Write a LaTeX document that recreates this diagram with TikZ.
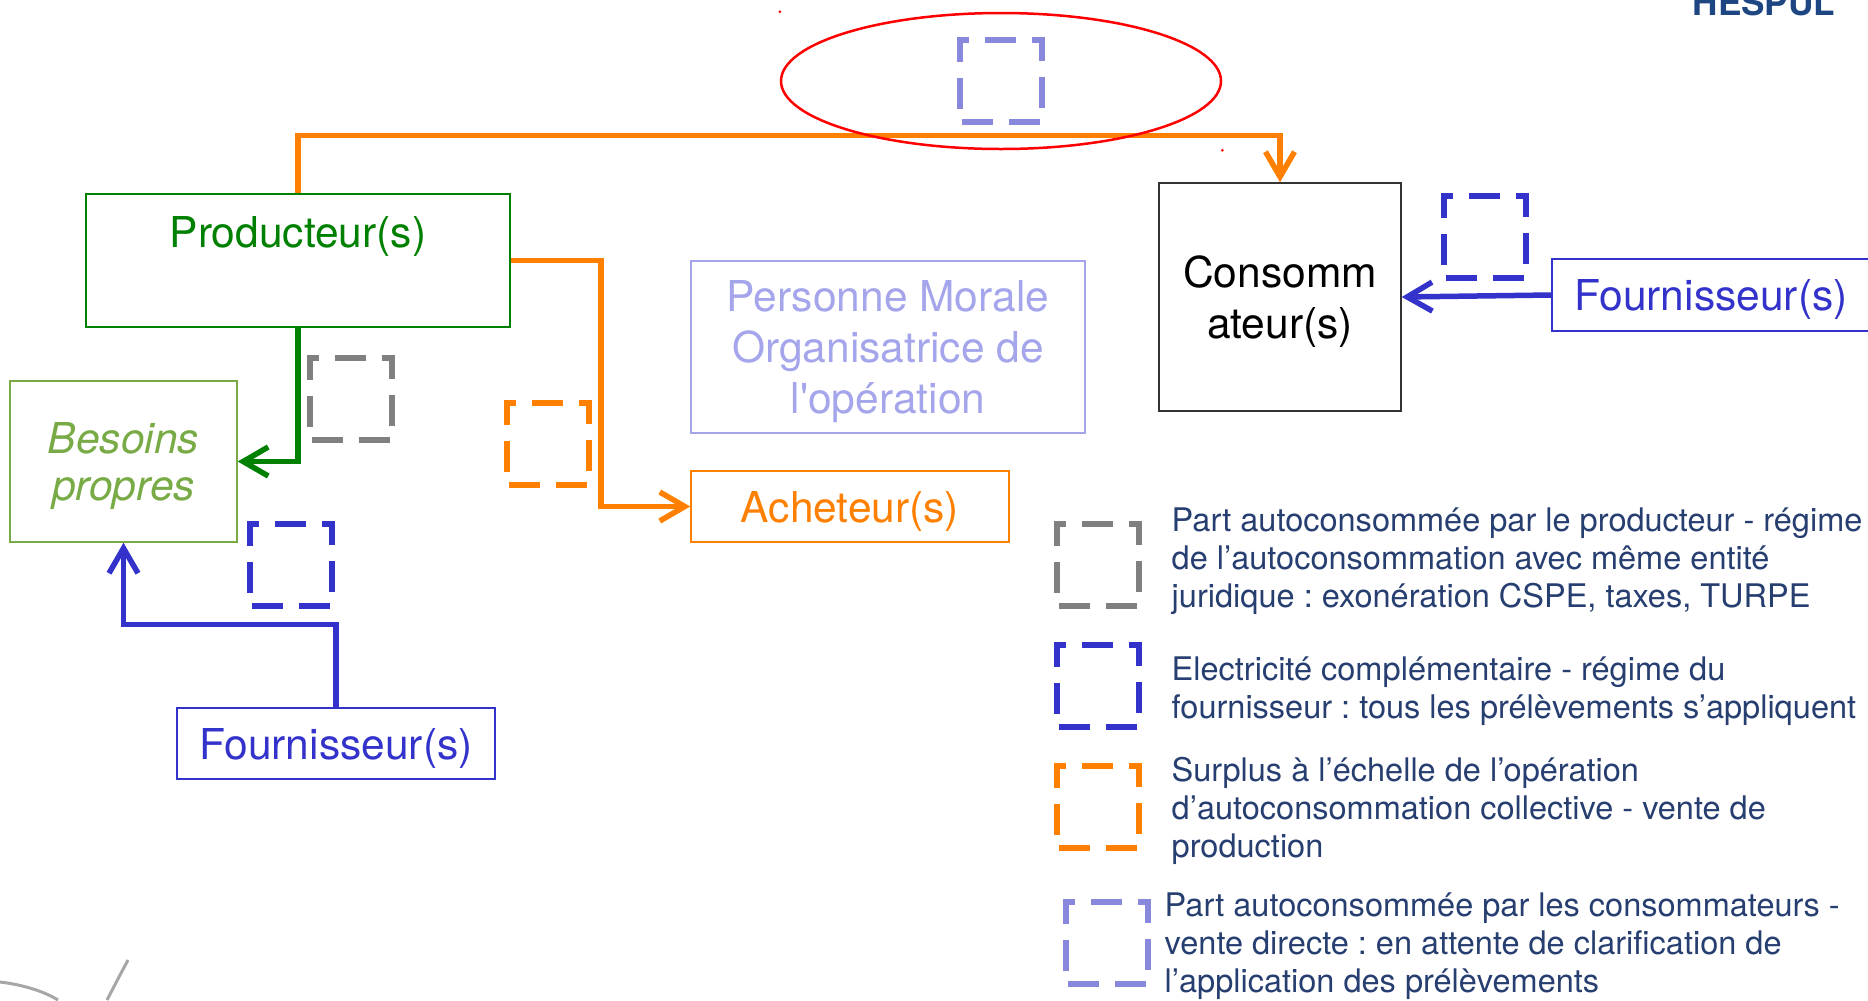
\documentclass[tikz,border=0pt]{standalone}
\usepackage{fontspec}
\setmainfont{TeX Gyre Heros}
\usetikzlibrary{arrows.meta,shapes.geometric}
\frenchspacing

\definecolor{vertprod}{RGB}{0,128,0}
\definecolor{vertbesoin}{RGB}{120,170,70}
\definecolor{orangeach}{RGB}{255,128,0}
\definecolor{bleufourn}{RGB}{51,51,204}
\definecolor{violetpmo}{RGB}{165,165,235}
\definecolor{violetcarre}{RGB}{136,136,221}
\definecolor{grisauto}{RGB}{128,128,128}
\definecolor{textelegende}{RGB}{38,62,112}
\definecolor{bleuhespul}{RGB}{30,70,130}

\begin{document}
\begin{tikzpicture}[x=0.1mm,y=-0.1mm,>={Straight Barb[length=2.5mm,width=2.9mm]},
                    flux/.style={->,line width=0.55mm},
                    boite/.style={draw,line width=0.15mm,inner sep=1mm,align=center,text depth=0pt,
                                  font=\fontsize{12.1}{14.4}\selectfont},
                    carre/.style={draw,line width=0.6mm,minimum size=8.2mm,inner sep=0pt,
                                  dash pattern=on 3.1mm off 1.6mm,dash phase=4.5mm},
                    legende/.style={anchor=west,inner sep=0pt,align=left,text=textelegende,
                                    font=\fontsize{9.25}{10.9}\selectfont}]
  \useasboundingbox (0,0) rectangle (1868,1000);

  \node[boite,draw=vertprod,text=vertprod,minimum width=42.4mm,minimum height=13.3mm,
        text height=4.3mm,text depth=7mm]                        (prod)     at (298,260.5) {Producteur(s)};
  \node[boite,draw=vertbesoin,text=vertbesoin,minimum width=22.7mm,minimum height=16.1mm,
        font=\fontsize{12.1}{13.6}\selectfont\itshape]           (besoins)  at (123.5,461.5) {Besoins\\propres};
  \node[boite,draw=violetpmo,text=violetpmo,minimum width=39.4mm,minimum height=17.2mm]
                                                                 (pmo)      at (888,347) {Personne Morale\\Organisatrice de\\l\textquotesingle opération};
  \node[boite,draw=orangeach,text=orangeach,minimum width=31.8mm,minimum height=7.1mm]
                                                                 (acheteur) at (850,506.5) {Acheteur(s)};
  \node[boite,draw=black!80,minimum width=24.2mm,minimum height=22.8mm]
                                                                 (conso)    at (1280,297) {Consomm\\ateur(s)};
  \node[boite,draw=bleufourn,text=bleufourn,minimum width=31.8mm,minimum height=7.1mm]
                                                                 (fournG)   at (336,743.5) {Fournisseur(s)};
  \node[boite,draw=bleufourn,text=bleufourn,minimum width=31.8mm,minimum height=7.2mm]
                                                                 (fournD)   at (1711,295) {Fournisseur(s)};

  \draw[flux,vertprod]  (prod.south) |- (besoins.east);
  \draw[flux,orangeach] (prod.north) -- ++(0,-58) -| (conso.north);
  \draw[flux,orangeach] (prod.east) -- ++(90,0) |- (acheteur.west);
  \draw[flux,bleufourn] (fournG.north) -- ++(0,-83) -| (besoins.south);
  \draw[flux,bleufourn] (fournD.west) -- (conso.east);

  \node[carre,draw=grisauto]    (sqgris)   at (350.5,398.5) {};
  \node[carre,draw=orangeach]   (sqorange) at (547.5,444) {};
  \node[carre,draw=bleufourn]   (sqbleuG)  at (290.5,564.5) {};
  \node[carre,draw=bleufourn]   (sqbleuD)  at (1484.5,236.5) {};
  \node[carre,draw=violetcarre] (sqviolet) at (1001,81) {};
  \node[ellipse,draw=red,line width=0.25mm,minimum width=44mm,minimum height=13.6mm]
                                (cercle)   at (1001,81) {};
  \fill[red] (cercle.west |- cercle.north) circle (0.15mm);
  \fill[red] (cercle.east |- cercle.south) circle (0.15mm);

  \node[carre,draw=grisauto]    (lgris)    at (1097.5,564.5) {};
  \node[carre,draw=bleufourn]   (lbleu)    at (1097.5,685.5) {};
  \node[carre,draw=orangeach]   (lorange)  at (1097.5,807) {};
  \node[carre,draw=violetcarre] (lviolet)  at (1106.5,942.5) {};
  \node[legende] (tgris)   at (1171,561) {Part autoconsommée par le producteur - régime\\de l’autoconsommation avec même entité\\juridique : exonération CSPE, taxes, TURPE};
  \node[legende] (tbleu)   at (1171,691) {Electricité complémentaire - régime du\\fournisseur : tous les prélèvements s’appliquent};
  \node[legende] (torange) at (1171,811) {Surplus à l’échelle de l’opération\\d’autoconsommation collective - vente de\\production};
  \node[legende] (tviolet) at (1164,946) {Part autoconsommée par les consommateurs -\\vente directe : en attente de clarification de\\l’application des prélèvements};

  \node[anchor=base west,inner sep=0pt,text=bleuhespul,font=\fontsize{10}{12}\selectfont\bfseries]
                                (logo)     at (1692,15) {HESPUL};
  \draw[grisauto!70,line width=0.3mm] (0,982) .. controls (25,985) and (45,992) .. (58,1000);
  \draw[grisauto!70,line width=0.3mm] (128,960) .. controls (120,975) .. (107,1000);
\end{tikzpicture}
\end{document}
